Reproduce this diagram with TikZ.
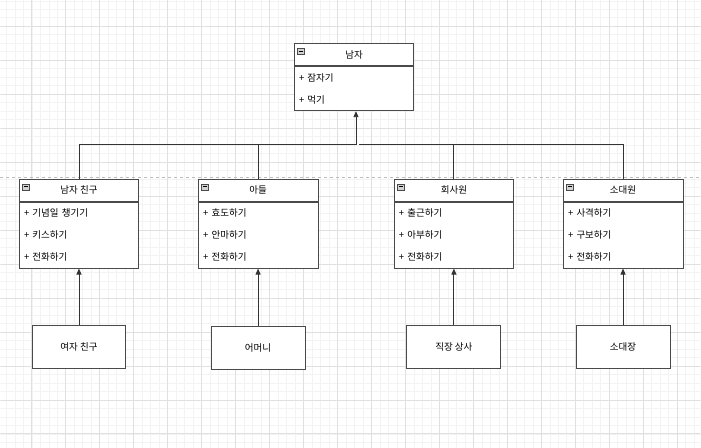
\documentclass[tikz,border=0pt]{standalone}
\usepackage{fontspec}
\setmainfont{Noto Sans CJK KR}
\usetikzlibrary{arrows.meta,positioning,calc}
\definecolor{gridminor}{HTML}{F3F3F3}
\definecolor{gridmajor}{HTML}{E0E0E0}
\definecolor{boxline}{HTML}{4A4A4A}
\definecolor{pagebreak}{HTML}{BDBDBD}
\begin{document}
\begin{tikzpicture}[x=1pt, y=-1pt,
  node distance=57pt,
  every node/.style={font=\fontsize{9.5}{11}\selectfont},
  classhead/.style={draw=boxline, fill=white, line width=0.9pt, minimum width=120pt,
    minimum height=22pt, inner sep=0pt, anchor=north},
  classbody/.style={draw=boxline, fill=white, line width=0.9pt, text width=110pt,
    inner xsep=5pt, inner ysep=0pt, align=left, anchor=north,
    font=\fontsize{9.5}{22}\selectfont},
  actor/.style={draw=boxline, fill=white, line width=0.9pt, minimum width=94pt,
    minimum height=43pt, inner sep=0pt},
  icon/.style={draw=boxline, fill=gray!35, line width=0.6pt},
  edge/.style={draw=black!80, line width=0.9pt},
  tip/.style={-{Triangle[length=6pt,width=5pt]}}]
\fill[white] (0,0) rectangle (701,448);
\begin{scope}
\clip (0,0) rectangle (701,448);
\foreach \i in {0,...,83} \draw[gridminor, line width=0.6pt] ({-2.5+8.5*\i},0) -- ++(0,448);
\foreach \i in {0,...,54} \draw[gridminor, line width=0.6pt] (0,{-7.7+8.5*\i}) -- ++(701,0);
\foreach \i in {0,...,21} \draw[gridmajor, line width=0.8pt] ({-2.5+34*\i},0) -- ++(0,448);
\foreach \i in {0,...,13} \draw[gridmajor, line width=0.8pt] (0,{-7.7+34*\i}) -- ++(701,0);
\end{scope}
\draw[pagebreak, line width=0.7pt, dash pattern=on 3pt off 3pt] (0,177.7) -- (701,177.7);
\node[classhead] (man) at (354,43.5) {남자};
\node[classbody, minimum height=44pt] (manb) at (man.south) {+ 잠자기\\+ 먹기};
\node[classhead] (bf) at (78.7,179) {남자 친구};
\node[classbody, minimum height=66pt] (bfb) at (bf.south) {+ 기념일 챙기기\\+ 키스하기\\+ 전화하기};
\node[classhead] (son) at (258,179) {아들};
\node[classbody, minimum height=66pt] (sonb) at (son.south) {+ 효도하기\\+ 안마하기\\+ 전화하기};
\node[classhead] (emp) at (454,179) {회사원};
\node[classbody, minimum height=66pt] (empb) at (emp.south) {+ 출근하기\\+ 아부하기\\+ 전화하기};
\node[classhead] (sol) at (623.3,179) {소대원};
\node[classbody, minimum height=66pt] (solb) at (sol.south) {+ 사격하기\\+ 구보하기\\+ 전화하기};
\foreach \c in {man,bf,son,emp,sol} {
  \draw[icon] ($(\c.north west)+(4,5)$) rectangle ++(7,6);
  \draw[black, line width=0.7pt] ($(\c.north west)+(5.5,8)$) -- ++(4,0);}
\node[actor, below=of bfb] (gf) {여자 친구};
\node[actor, below=58pt of sonb] (mom) {어머니};
\node[actor, below=of empb] (boss) {직장 상사};
\node[actor, below=of solb] (sgt) {소대장};
\coordinate (hubL) at (356,145);
\coordinate (hubR) at (359,145);
\draw[edge] (bf) |- (hubL);
\draw[edge] (son) |- (hubL);
\draw[edge] (emp) |- (hubR);
\draw[edge] (sol) |- (hubR);
\draw[edge, tip] (hubL) -- (manb.south -| hubL);
\foreach \src/\dst in {gf/bfb, mom/sonb, boss/empb, sgt/solb} {
  \draw[edge, tip] (\src) -- (\dst);}
\end{tikzpicture}
\end{document}
